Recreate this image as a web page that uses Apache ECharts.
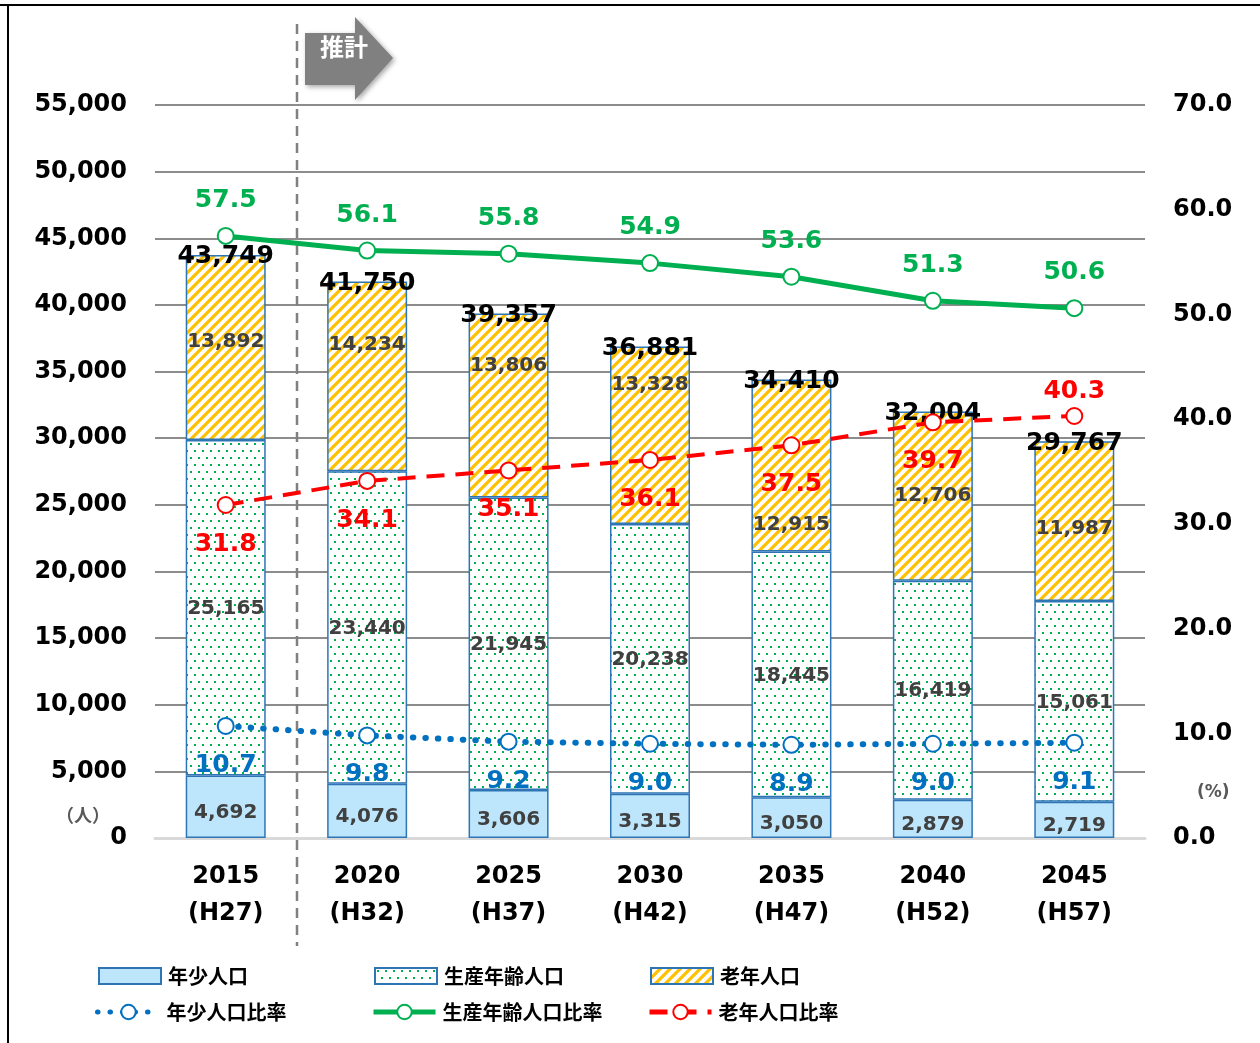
<!DOCTYPE html>
<html>
<head>
    <meta charset="UTF-8">
    <title>人口推計</title>
    <style>
        html, body {
            margin: 0;
            padding: 0;
            background: #fff;
        }

        #main {
            width: 1260px;
            height: 1043px;
        }
    </style>
    <script src="https://cdn.jsdelivr.net/npm/echarts@6/dist/echarts.min.js"></script>
</head>
<body>
<div id="main"></div>
<script>
    // data
    var years = ['2015\n(H27)', '2020\n(H32)', '2025\n(H37)', '2030\n(H42)', '2035\n(H47)', '2040\n(H52)', '2045\n(H57)'];
    var youngPop = [4692, 4076, 3606, 3315, 3050, 2879, 2719];
    var workPop = [25165, 23440, 21945, 20238, 18445, 16419, 15061];
    var oldPop = [13892, 14234, 13806, 13328, 12915, 12706, 11987];
    var youngRatio = [10.7, 9.8, 9.2, 9.0, 8.9, 9.0, 9.1];
    var workRatio = [57.5, 56.1, 55.8, 54.9, 53.6, 51.3, 50.6];
    var oldRatio = [31.8, 34.1, 35.1, 36.1, 37.5, 39.7, 40.3];

    var FONT = '"DejaVu Sans", "Noto Sans CJK JP", sans-serif';
    var JP = '"Noto Sans CJK JP", sans-serif';

    var totals = youngPop.map(function (v, i) {
        return v + workPop[i] + oldPop[i];
    });

    function fmt(v) {
        return String(v).replace(/\B(?=(\d{3})+(?!\d))/g, ',');
    }

    // fill patterns
    function hatch() {
        var c = document.createElement('canvas');
        c.width = 10;
        c.height = 10;
        var ctx = c.getContext('2d');
        ctx.fillStyle = '#fff';
        ctx.fillRect(0, 0, 10, 10);
        ctx.strokeStyle = '#ffc000';
        ctx.lineWidth = 3.2;
        ctx.beginPath();
        ctx.moveTo(-2, 12); ctx.lineTo(12, -2);
        ctx.moveTo(-3, 3); ctx.lineTo(3, -3);
        ctx.moveTo(7, 13); ctx.lineTo(13, 7);
        ctx.stroke();
        return c;
    }

    function dots() {
        var c = document.createElement('canvas');
        c.width = 16;
        c.height = 14;
        var ctx = c.getContext('2d');
        ctx.fillStyle = '#fff';
        ctx.fillRect(0, 0, 16, 14);
        ctx.fillStyle = '#00b050';
        ctx.fillRect(2, 2, 2, 2);
        ctx.fillRect(10, 2, 2, 2);
        ctx.fillRect(6, 9, 2, 2);
        ctx.fillRect(14, 9, 2, 2);
        return c;
    }

    // shift of the elderly labels, as drawn in the original
    var oldLabelShift = [-6, -32, -40, -50, 59, 0, 8];

    function segLabel(dy) {
        return {
            show: true,
            position: 'inside',
            offset: [0, dy],
            color: '#404040',
            textBorderWidth: 0,
            fontFamily: FONT,
            fontWeight: 'bold',
            fontSize: 20,
            formatter: function (p) { return fmt(p.value); }
        };
    }

    function ratioLabel(color, pos, dist) {
        return {
            show: true,
            position: pos,
            distance: dist,
            color: color,
            fontFamily: FONT,
            fontWeight: 'bold',
            fontSize: 25,
            formatter: function (p) { return p.value.toFixed(1); }
        };
    }

    var chart = echarts.init(document.getElementById('main'), null, {renderer: 'canvas'});

    function legendAt(name, left, top, h, isBar) {
        var leg = {
            data: [name],
            left: left,
            top: top,
            padding: 0,
            itemWidth: 62,
            itemHeight: h,
            itemGap: 0,
            selectedMode: false,
            textStyle: {fontFamily: JP, fontWeight: 'bold', fontSize: 20, color: '#000', padding: [0, 0, 0, 2]}
        };
        if (isBar) {
            leg.icon = 'rect';
        } else {
            leg.lineStyle = {width: 5};
            leg.itemStyle = {borderWidth: 3};
        }
        return leg;
    }

    var option = {
        animation: false,
        backgroundColor: '#fff',
        grid: {left: 155, right: 115, top: 105, bottom: 205, outerBoundsMode: 'none'},
        legend: [
            legendAt('年少人口', 98, 966, 16, true),
            legendAt('生産年齢人口', 374, 966, 16, true),
            legendAt('老年人口', 650, 966, 16, true),
            legendAt('年少人口比率', 95, 1002, 18, false),
            legendAt('生産年齢人口比率', 371, 1002, 18, false),
            legendAt('老年人口比率', 647, 1002, 18, false)
        ],
        xAxis: {
            type: 'category',
            data: years,
            axisLine: {lineStyle: {color: '#d9d9d9', width: 3}},
            axisTick: {show: false},
            axisLabel: {
                margin: 20,
                color: '#000',
                fontFamily: FONT,
                fontWeight: 'bold',
                fontSize: 24,
                lineHeight: 37
            }
        },
        yAxis: [
            {
                type: 'value',
                min: 0,
                max: 55000,
                interval: 5000,
                axisLine: {show: false},
                axisTick: {show: false},
                splitLine: {lineStyle: {color: '#8c8c8c', width: 2}},
                axisLabel: {
                    margin: 28,
                    color: '#000',
                    fontFamily: FONT,
                    fontWeight: 'bold',
                    fontSize: 24,
                    formatter: function (v) { return fmt(v); }
                }
            },
            {
                type: 'value',
                min: 0,
                max: 70,
                interval: 10,
                axisLine: {show: false},
                axisTick: {show: false},
                splitLine: {show: false},
                axisLabel: {
                    margin: 28,
                    color: '#000',
                    fontFamily: FONT,
                    fontWeight: 'bold',
                    fontSize: 24,
                    formatter: function (v) { return v.toFixed(1); }
                }
            }
        ],
        series: [
            {
                name: '年少人口',
                type: 'bar',
                stack: 'pop',
                barWidth: 80,
                data: youngPop,
                itemStyle: {color: '#bde5fb', borderColor: '#2e75b6', borderWidth: 1.5},
                label: segLabel(6)
            },
            {
                name: '生産年齢人口',
                type: 'bar',
                stack: 'pop',
                barWidth: 80,
                data: workPop,
                itemStyle: {color: {image: dots(), repeat: 'repeat'}, borderColor: '#2e75b6', borderWidth: 1.5},
                label: segLabel(1)
            },
            {
                name: '老年人口',
                type: 'bar',
                stack: 'pop',
                barWidth: 80,
                data: oldPop.map(function (v, i) {
                    return {value: v, label: {offset: [0, oldLabelShift[i]]}};
                }),
                itemStyle: {color: {image: hatch(), repeat: 'repeat'}, borderColor: '#2e75b6', borderWidth: 1.5},
                label: segLabel(0)
            },
            {
                name: 'total',
                type: 'scatter',
                data: totals,
                symbolSize: 1,
                itemStyle: {color: 'rgba(0,0,0,0)'},
                z: 5,
                label: {
                    show: true,
                    position: 'inside',
                    offset: [0, 2],
                    color: '#000',
                    opacity: 1,
                    textBorderWidth: 0,
                    fontFamily: FONT,
                    fontWeight: 'bold',
                    fontSize: 25,
                    formatter: function (p) { return fmt(p.value); }
                }
            },
            {
                name: '年少人口比率',
                type: 'line',
                yAxisIndex: 1,
                data: youngRatio,
                symbol: 'emptyCircle',
                symbolSize: 16,
                z: 6,
                lineStyle: {color: '#0070c0', width: 6, type: [0.5, 12], cap: 'round'},
                itemStyle: {color: '#0070c0', borderWidth: 3},
                label: ratioLabel('#0070c0', 'bottom', 18)
            },
            {
                name: '生産年齢人口比率',
                type: 'line',
                yAxisIndex: 1,
                data: workRatio,
                symbol: 'emptyCircle',
                symbolSize: 16,
                z: 6,
                lineStyle: {color: '#00b050', width: 5},
                itemStyle: {color: '#00b050', borderWidth: 3},
                label: ratioLabel('#00b050', 'top', 14)
            },
            {
                name: '老年人口比率',
                type: 'line',
                yAxisIndex: 1,
                data: oldRatio.map(function (v, i) {
                    return i === oldRatio.length - 1 ? {value: v, label: {position: 'top', distance: 3}} : v;
                }),
                symbol: 'emptyCircle',
                symbolSize: 16,
                z: 6,
                lineStyle: {color: '#ff0000', width: 4, type: [18, 11]},
                itemStyle: {color: '#ff0000', borderWidth: 3},
                label: ratioLabel('#ff0000', 'bottom', 18)
            }
        ],
        graphic: [
            {type: 'line', shape: {x1: 0, y1: 5, x2: 1260, y2: 5}, style: {stroke: '#000', lineWidth: 2}},
            {type: 'line', shape: {x1: 8, y1: 5, x2: 8, y2: 1043}, style: {stroke: '#000', lineWidth: 2}},
            {
                type: 'line', z: 1,
                shape: {x1: 297, y1: 24, x2: 297, y2: 946},
                style: {stroke: '#808080', lineWidth: 2.5, lineDash: [10, 7]}
            },
            {
                type: 'polygon',
                z: 10,
                shape: {points: [[305, 33], [355, 33], [355, 17], [393, 58], [355, 100], [355, 85], [305, 85]]},
                style: {fill: '#808080', shadowBlur: 5, shadowColor: 'rgba(0,0,0,0.35)', shadowOffsetX: 2, shadowOffsetY: 2}
            },
            {
                type: 'text', z: 11, left: 320, top: 35,
                style: {text: '推計', fill: '#fff', font: 'bold 24px "Noto Sans CJK JP", sans-serif'}
            },
            {
                type: 'text', left: 56, top: 806,
                style: {text: '（人）', fill: '#595959', font: 'bold 18px "Noto Sans CJK JP", sans-serif'}
            },
            {
                type: 'text', left: 1197, top: 784,
                style: {text: '(%)', fill: '#595959', font: 'bold 17px "DejaVu Sans", sans-serif'}
            }
        ]
    };

    chart.setOption(option);
</script>
</body>
</html>
